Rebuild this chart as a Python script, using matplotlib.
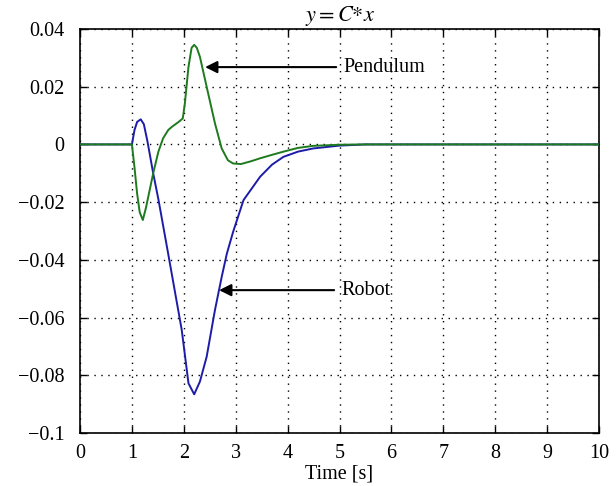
import matplotlib
matplotlib.use("Agg")
import matplotlib.pyplot as plt

# Data
t_pend = [0, 1.0, 1.05, 1.1, 1.15, 1.21, 1.27, 1.34, 1.41, 1.51, 1.6, 1.7, 1.77, 1.9, 1.98,
          2.02, 2.09, 2.15, 2.2, 2.25, 2.31, 2.44, 2.6, 2.73, 2.85, 2.95, 3.1, 3.3, 3.47,
          3.7, 3.92, 4.2, 4.49, 5.0, 5.5, 10]
y_pend = [0, 0, -0.008, -0.017, -0.0235, -0.0262, -0.022, -0.016, -0.010, -0.0025, 0.0021,
          0.0050, 0.0061, 0.0078, 0.0090, 0.0142, 0.0269, 0.0335, 0.0345, 0.0335, 0.0304,
          0.0200, 0.0073, -0.0014, -0.0055, -0.0066, -0.0068, -0.0058, -0.0048, -0.0036,
          -0.0025, -0.0012, -0.0005, -0.0001, 0, 0]

t_robot = [0, 1.0, 1.05, 1.1, 1.17, 1.23, 1.3, 1.41, 1.51, 1.7, 1.96, 2.09, 2.2, 2.31,
           2.44, 2.6, 2.73, 2.83, 2.95, 3.15, 3.47, 3.7, 3.92, 4.2, 4.49, 5.0, 5.5, 10]
y_robot = [0, 0, 0.0050, 0.0078, 0.0087, 0.0070, 0.0010, -0.0100, -0.0190, -0.0380,
           -0.0643, -0.0828, -0.0866, -0.0822, -0.0736, -0.0574, -0.0459, -0.0378, -0.0303,
           -0.0193, -0.0112, -0.0070, -0.0043, -0.0025, -0.0014, -0.0004, 0, 0]

xticks = [0, 1, 2, 3, 4, 5, 6, 7, 8, 9, 10]
yticks = [-0.1, -0.08, -0.06, -0.04, -0.02, 0, 0.02, 0.04]
yticklabels = ["\u22120.1", "\u22120.08", "\u22120.06", "\u22120.04", "\u22120.02", "0", "0.02", "0.04"]

plt.rcParams['font.family'] = ['Liberation Serif', 'DejaVu Serif']
plt.rcParams['mathtext.fontset'] = 'stix'

fig = plt.figure(figsize=(6.16, 4.86), dpi=100)
ax = fig.add_axes([0.1299, 0.1091, 0.8425, 0.8312])

ax.plot(t_robot, y_robot, color='#1c1ca8', lw=1.4, zorder=3)
ax.plot(t_pend, y_pend, color='#1e7a1e', lw=1.4, zorder=4)

ax.set_xlim(0, 10)
ax.set_ylim(-0.1, 0.04)
ax.set_xticks(xticks)
ax.set_xticklabels([str(v) for v in xticks])
ax.set_yticks(yticks)
ax.set_yticklabels(yticklabels)
ax.tick_params(direction='in', length=5, width=1, top=True, right=True,
               labelsize=14.5, colors='black')
ax.tick_params(axis='x', pad=8)
ax.tick_params(axis='y', pad=11)
ax.grid(True, linestyle=(0, (1, 4)), color='black', linewidth=1.0)
for s in ax.spines.values():
    s.set_linewidth(1.2)
    s.set_color('black')

ax.set_xlabel('Time [s]', fontsize=14.5, labelpad=1)
ax.set_title(r'$y = C{*}x$', fontsize=16, pad=6)

ax.annotate('Pendulum', xy=(2.41, 0.0268), xytext=(5.07, 0.0268),
            fontsize=14.5, va='center', ha='left',
            arrowprops=dict(arrowstyle='-|>', color='black', lw=1.5,
                            mutation_scale=18, shrinkA=3, shrinkB=0))
ax.annotate('Robot', xy=(2.68, -0.0505), xytext=(5.03, -0.0505),
            fontsize=14.5, va='center', ha='left',
            arrowprops=dict(arrowstyle='-|>', color='black', lw=1.5,
                            mutation_scale=18, shrinkA=3, shrinkB=0))

fig.savefig('out.png', dpi=100)
